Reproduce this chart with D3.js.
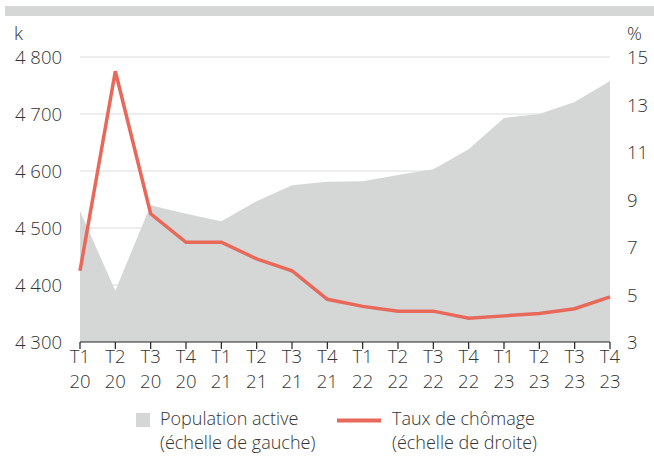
<!DOCTYPE html>
<meta charset="utf-8">
<head>
  <script src="https://d3js.org/d3.v7.min.js"></script>
  <style>
    body { margin: 0; background: #fff; }
    text { font-family: "Open Sans", sans-serif; font-weight: 300; fill: #333; }
  </style>
</head>
<body>
  <div id="chart"></div>
  <script>
    var quarters = ["T1", "T2", "T3", "T4", "T1", "T2", "T3", "T4", "T1", "T2", "T3", "T4", "T1", "T2", "T3", "T4"]
    var years = ["20", "20", "20", "20", "21", "21", "21", "21", "22", "22", "22", "22", "23", "23", "23", "23"]
    var population = [4530, 4390, 4540, 4525, 4512, 4547, 4575, 4581, 4582, 4593, 4603, 4638, 4693, 4700, 4721, 4758]
    var chomage = [6.0, 14.4, 8.4, 7.2, 7.2, 6.5, 6.0, 4.8, 4.5, 4.3, 4.3, 4.0, 4.1, 4.2, 4.4, 4.9]
    var leftTicks = [4300, 4400, 4500, 4600, 4700, 4800]
    var rightTicks = [3, 5, 7, 9, 11, 13, 15]

    var width = 654, height = 456
    var fs = 18.5
    var svg = d3.select("#chart").append("svg")
      .attr("width", width)
      .attr("height", height)

    // top band
    svg.append("rect").attr("x", 5).attr("y", 6).attr("width", width - 5).attr("height", 10).attr("fill", "#d5d6d6")

    var x = d3.scalePoint().domain(d3.range(16)).range([80, 610])
    var yL = d3.scaleLinear().domain([4300, 4800]).range([342, 57])
    var yR = d3.scaleLinear().domain([3, 15]).range([342, 57])

    // gridlines
    svg.append("g").selectAll("line")
      .data(leftTicks.slice(1))
      .enter().append("line")
      .attr("x1", 80).attr("x2", 610)
      .attr("y1", function(d) { return yL(d) })
      .attr("y2", function(d) { return yL(d) })
      .attr("stroke", "#dcdcdc").attr("stroke-width", 1)

    var area = d3.area()
      .x(function(d, i) { return x(i) })
      .y0(yL(4300))
      .y1(function(d) { return yL(d) })
    svg.append("path").datum(population).attr("d", area).attr("fill", "#d5d6d6")

    var line = d3.line()
      .x(function(d, i) { return x(i) })
      .y(function(d) { return yR(d) })
    svg.append("path").datum(chomage).attr("d", line)
      .attr("fill", "none").attr("stroke", "#e8685a").attr("stroke-width", 3.5)

    // x axis
    var xAxis = svg.append("g").attr("transform", "translate(0,342)")
    xAxis.append("line").attr("x1", 80).attr("x2", 610).attr("stroke", "#222").attr("stroke-width", 1.2)
    xAxis.selectAll(".tick").data(d3.range(16)).enter().append("line")
      .attr("x1", function(d) { return x(d) }).attr("x2", function(d) { return x(d) })
      .attr("y1", 0).attr("y2", 7).attr("stroke", "#222").attr("stroke-width", 1.2)
    xAxis.selectAll(".q").data(quarters).enter().append("text")
      .attr("x", function(d, i) { return x(i) }).attr("y", 21)
      .attr("text-anchor", "middle").attr("font-size", fs).text(function(d) { return d })
    xAxis.selectAll(".yr").data(years).enter().append("text")
      .attr("x", function(d, i) { return x(i) }).attr("y", 46)
      .attr("text-anchor", "middle").attr("font-size", fs).text(function(d) { return d })

    // left axis labels
    svg.append("g").selectAll("text").data(leftTicks).enter().append("text")
      .attr("x", 62).attr("y", function(d) { return yL(d) + 7 })
      .attr("text-anchor", "end").attr("font-size", fs)
      .text(function(d) { return d3.format(",")(d).replace(",", " ") })
    svg.append("text").attr("x", 14).attr("y", 40).attr("font-size", fs).text("k")

    // right axis labels
    svg.append("g").selectAll("text").data(rightTicks).enter().append("text")
      .attr("x", 627).attr("y", function(d) { return yR(d) + 7 })
      .attr("font-size", fs).text(function(d) { return d })
    svg.append("text").attr("x", 627).attr("y", 40).attr("font-size", fs).text("%")

    // legend
    var lfs = 18
    var legend = svg.append("g")
    legend.append("rect").attr("x", 136).attr("y", 413).attr("width", 14).attr("height", 14).attr("fill", "#d5d6d6")
    legend.append("text").attr("x", 160).attr("y", 425).attr("font-size", lfs).text("Population active")
    legend.append("text").attr("x", 160).attr("y", 449).attr("font-size", lfs).text("(échelle de gauche)")
    legend.append("line").attr("x1", 337).attr("x2", 381).attr("y1", 420.5).attr("y2", 420.5)
      .attr("stroke", "#e8685a").attr("stroke-width", 4)
    legend.append("text").attr("x", 392).attr("y", 425).attr("font-size", lfs).text("Taux de chômage")
    legend.append("text").attr("x", 392).attr("y", 449).attr("font-size", lfs).text("(échelle de droite)")
  </script>
</body>
